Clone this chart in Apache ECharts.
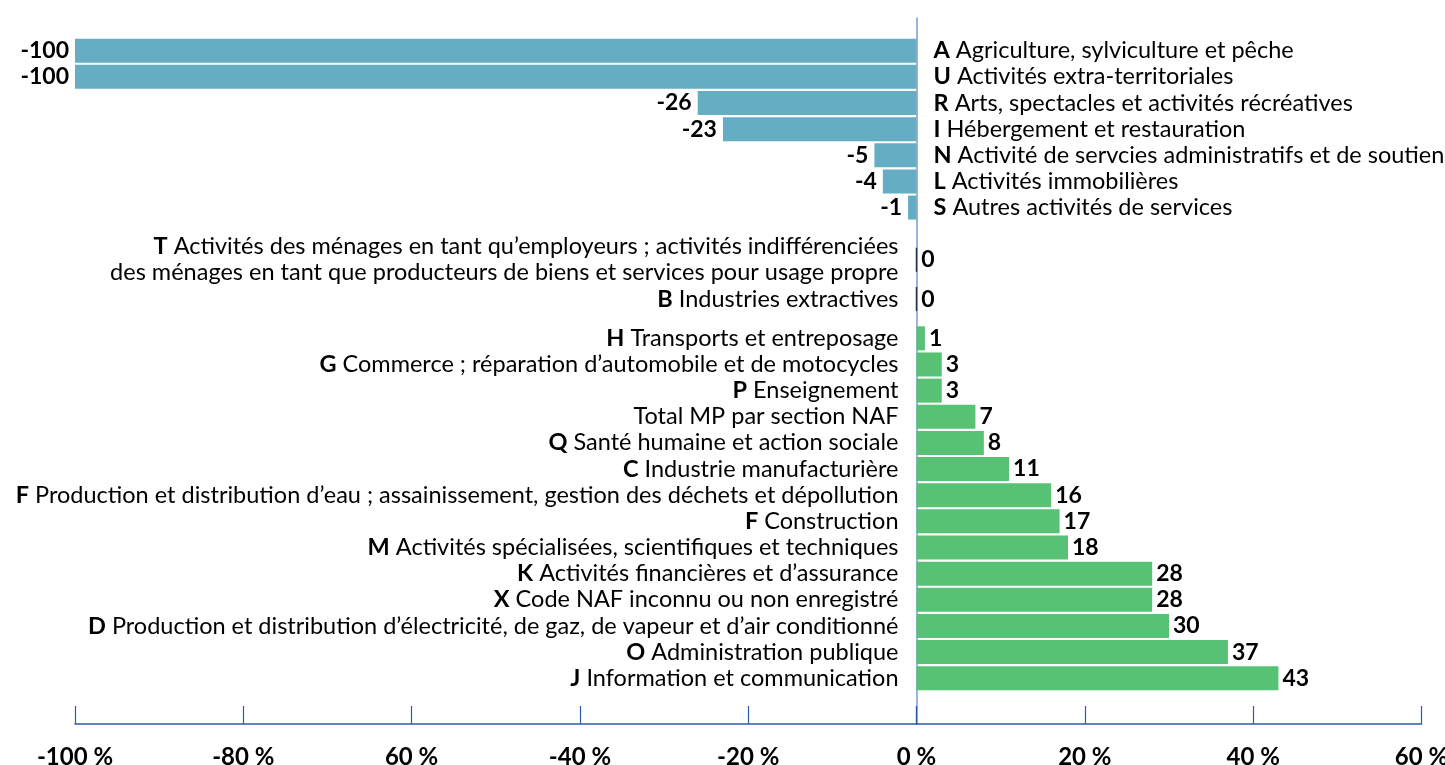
<!DOCTYPE html>
<html>
<head>
<meta charset="utf-8">
<title>Évolution des MP par section NAF</title>
<script src="https://cdn.jsdelivr.net/npm/echarts@6/dist/echarts.min.js"></script>
<style>
  html, body { margin: 0; padding: 0; background: #ffffff; }
  #chart { width: 1445px; height: 765px; }
</style>
</head>
<body>
<div id="chart"></div>
<script>
// Sections NAF, de la plus forte baisse à la plus forte hausse
const sectionCodes = ['A', 'U', 'R', 'I', 'N', 'L', 'S', 'T', 'B', 'H', 'G', 'P', '', 'Q', 'C', 'F', 'F', 'M', 'K', 'X', 'D', 'O', 'J'];
const sectionNames = [
  'Agriculture, sylviculture et pêche',
  'Activités extra-territoriales',
  'Arts, spectacles et activités récréatives',
  'Hébergement et restauration',
  'Activité de servcies administratifs et de soutien',
  'Activités immobilières',
  'Autres activités de services',
  'Activités des ménages en tant qu’employeurs ; activités indifférenciées\ndes ménages en tant que producteurs de biens et services pour usage propre',
  'Industries extractives',
  'Transports et entreposage',
  'Commerce ; réparation d’automobile et de motocycles',
  'Enseignement',
  'Total MP par section NAF',
  'Santé humaine et action sociale',
  'Industrie manufacturière',
  'Production et distribution d’eau ; assainissement, gestion des déchets et dépollution',
  'Construction',
  'Activités spécialisées, scientifiques et techniques',
  'Activités financières et d’assurance',
  'Code NAF inconnu ou non enregistré',
  'Production et distribution d’électricité, de gaz, de vapeur et d’air conditionné',
  'Administration publique',
  'Information et communication'
];
// Variation en %
const variation = [-100, -100, -26, -23, -5, -4, -1, 0, 0, 1, 3, 3, 7, 8, 11, 16, 17, 18, 28, 28, 30, 37, 43];
// Graduations de l'axe horizontal
const xTickLabels = ['-100 %', '-80 %', '60 %', '-40 %', '-20 %', '0 %', '20 %', '40 %', '60 %'];

// Layout: every row takes two half-slots on the category axis; a few rows get
// extra half-slots above them so the two-line label and the zero rows breathe.
const TOP_PAD = 2, BOTTOM_PAD = 2;
const extraHalfSlots = { 7: 2, 8: 1, 9: 1 };

const slotKeys = [], slotRow = [];
function addSlot(row) { slotKeys.push('s' + slotKeys.length); slotRow.push(row); }
for (let k = 0; k < TOP_PAD; k++) addSlot(-1);
variation.forEach((v, i) => {
  for (let k = 0; k < (extraHalfSlots[i] || 0); k++) addSlot(-1);
  addSlot(i);
  addSlot(-1);
});
for (let k = 0; k < BOTTOM_PAD; k++) addSlot(-1);

const NEG_COLOR = '#64adc2';
const POS_COLOR = '#57c174';
const FONT = 'Lato';
const NAME_SIZE = 23.5;

// The chart is split at zero: falling sections in the left grid, the others in the right one.
const isFalling = row => variation[row] < 0;

function barData(keep) {
  return slotRow.map(row => {
    if (row < 0 || !keep(row)) return null;
    const v = variation[row];
    return {
      value: v,
      itemStyle: {
        color: v < 0 ? NEG_COLOR : POS_COLOR,
        borderColor: v === 0 ? '#23314f' : 'transparent',
        borderWidth: v === 0 ? 1.5 : 0
      }
    };
  });
}

function rowLabel(row) {
  const code = sectionCodes[row];
  const name = sectionNames[row];
  return code ? '{c|' + code + '} {n|' + name + '}' : '{n|' + name + '}';
}

const richStyles = {
  c: { fontFamily: FONT, fontWeight: 'bold', fontSize: NAME_SIZE, color: '#000', lineHeight: 26 },
  n: { fontFamily: FONT, fontWeight: 'normal', fontSize: NAME_SIZE, color: '#000', lineHeight: 26 }
};

const valueLabel = {
  show: true,
  fontFamily: FONT,
  fontWeight: 'bold',
  fontSize: 23,
  color: '#000',
  formatter: p => String(p.value)
};

const AXIS_BLUE = '#2f5aa8';
const ZERO_BLUE = '#7d98d6';
const GRID_TOP = 18, GRID_HEIGHT = 706, ZERO_X = 916.5;

function valueAxis(gridIndex, min, max, showZeroLabel) {
  return {
    type: 'value',
    gridIndex,
    min,
    max,
    interval: 20,
    axisLine: { show: true, onZero: false, lineStyle: { color: AXIS_BLUE, width: 1.5 } },
    axisTick: { show: true, inside: true, length: 18, lineStyle: { color: AXIS_BLUE, width: 1.2 } },
    splitLine: { show: false },
    axisLabel: {
      margin: 21,
      fontFamily: FONT,
      fontWeight: 'bold',
      fontSize: 24,
      color: '#000',
      formatter: v => (v === 0 && !showZeroLabel) ? '' : xTickLabels[Math.round((v + 100) / 20)]
    }
  };
}

function categoryAxis(gridIndex, position, showLine, margin, keep) {
  return {
    type: 'category',
    gridIndex,
    data: slotKeys,
    inverse: true,
    position,
    axisLine: { show: showLine, onZero: false, lineStyle: { color: ZERO_BLUE, width: 1.5 } },
    axisTick: { show: false },
    splitLine: { show: false },
    axisLabel: {
      interval: 0,
      margin,
      fontFamily: FONT,
      fontSize: NAME_SIZE,
      color: '#000',
      rich: richStyles,
      formatter: (val, idx) => {
        const row = slotRow[idx];
        return row >= 0 && keep(row) ? rowLabel(row) : '';
      }
    }
  };
}

const chart = echarts.init(document.getElementById('chart'), null, { renderer: 'canvas' });

chart.setOption({
  animation: false,
  backgroundColor: '#ffffff',
  grid: [
    { left: 75, width: ZERO_X - 75, top: GRID_TOP, height: GRID_HEIGHT, containLabel: false, outerBoundsMode: 'none' },
    { left: ZERO_X, right: 23.5, top: GRID_TOP, height: GRID_HEIGHT, containLabel: false, outerBoundsMode: 'none' }
  ],
  xAxis: [
    valueAxis(0, -100, 0, false),
    valueAxis(1, 0, 60, true)
  ],
  yAxis: [
    categoryAxis(0, 'right', false, 17, row => isFalling(row)),
    categoryAxis(1, 'left', true, 18, row => !isFalling(row))
  ],
  series: [
    {
      type: 'bar',
      xAxisIndex: 0,
      yAxisIndex: 0,
      data: barData(row => isFalling(row)),
      barWidth: 24,
      z: 3,
      label: Object.assign({ position: 'left', distance: 6 }, valueLabel)
    },
    {
      type: 'bar',
      xAxisIndex: 1,
      yAxisIndex: 1,
      data: barData(row => !isFalling(row)),
      barWidth: 24,
      z: 3,
      label: Object.assign({ position: 'right', distance: 4 }, valueLabel)
    }
  ]
});
</script>
</body>
</html>
